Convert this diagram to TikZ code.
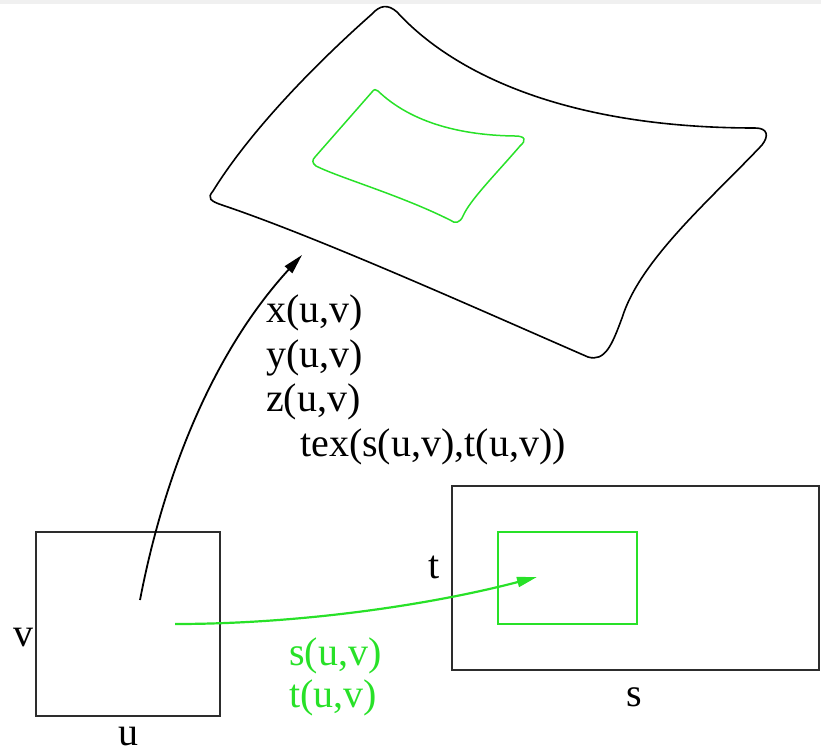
\documentclass[tikz,border=0pt]{standalone}
\usepackage{fontspec}
\setmainfont{Liberation Serif}
\usetikzlibrary{arrows.meta,positioning}
\definecolor{texgreen}{RGB}{40,225,40}
\definecolor{boxgray}{RGB}{45,45,45}

\begin{document}
\begin{tikzpicture}[x=1pt,y=-1pt,
  lbl/.style={font=\fontsize{40}{48}\selectfont,inner sep=0pt},
  boxline/.style={draw=boxgray,line width=1.5pt,inner sep=0pt},
  patchline/.style={draw=texgreen,line width=1.5pt},
  maparrow/.style={-{Triangle[length=20pt,width=10pt]},line width=1.8pt}
]
  \useasboundingbox (0,0) rectangle (821,753);
  \fill[black!6] (0,0) rectangle (821,4);
  % Parameter square and texture rectangle
  \node[boxline,minimum width=184pt,minimum height=184pt] (uvbox) at (128,624) {};
  \node[boxline,minimum width=367pt,minimum height=184pt] (stbox) at (635.5,578) {};
  \node[patchline,inner sep=0pt,minimum width=139pt,minimum height=92pt] (stpatch) at (567.5,578) {};
  % Axis labels
  \node[lbl,anchor=east] (vlbl) at (34,638) {v};
  \node[lbl] (ulbl) at (128,737) {u};
  \node[lbl] (tlbl) at (434,567) {t};
  \node[lbl] (slbl) at (634,697) {s};
  % Surface in space
  \draw[line width=1.6pt] (213,191) .. controls (252,128) and (320,60) .. (372,14)
    .. controls (380,5) and (388,4) .. (397,12)
    .. controls (450,70) and (560,128) .. (755,128)
    .. controls (768,128) and (769,136) .. (762,145)
    .. controls (710,200) and (640,260) .. (622,318)
    .. controls (612,345) and (605,362) .. (588,357)
    .. controls (480,310) and (320,238) .. (222,205)
    .. controls (210,201) and (207,198) .. (213,191) -- cycle;
  % Image of the patch on the surface
  \draw[patchline] (378,91) .. controls (400,112) and (440,135) .. (515,136)
    .. controls (525,136) and (527,140) .. (520,146)
    .. controls (495,175) and (470,200) .. (463,216)
    .. controls (460,223) and (455,224) .. (450,220)
    .. controls (400,195) and (340,178) .. (316,166)
    .. controls (312,163) and (312,160) .. (315,157)
    -- (372,92) .. controls (374,89) and (376,89) .. (378,91) -- cycle;
  % Mappings
  \coordinate (xyzfrom) at (140,600);
  \coordinate (xyzto) at (302,255);
  \coordinate (stfrom) at (175,624);
  \coordinate (stto) at (537,577);
  \draw[maparrow] (xyzfrom) .. controls (165,470) and (215,350) .. (xyzto);
  \draw[maparrow,texgreen,line width=2.2pt] (stfrom) .. controls (300,624) and (430,605) .. (stto);
  % Mapping functions
  \node[lbl,anchor=base west] (xfun) at (266,322) {x(u,v)};
  \node[lbl,anchor=base west] (yfun) at (266,367) {y(u,v)};
  \node[lbl,anchor=base west] (zfun) at (266,411) {z(u,v)};
  \node[lbl,anchor=base west] (texfun) at (300,456) {tex(s(u,v),t(u,v))};
  \node[lbl,anchor=base west,texgreen] (sfun) at (289,665) {s(u,v)};
  \node[lbl,anchor=base west,texgreen] (tfun) at (289,707) {t(u,v)};
\end{tikzpicture}
\end{document}
